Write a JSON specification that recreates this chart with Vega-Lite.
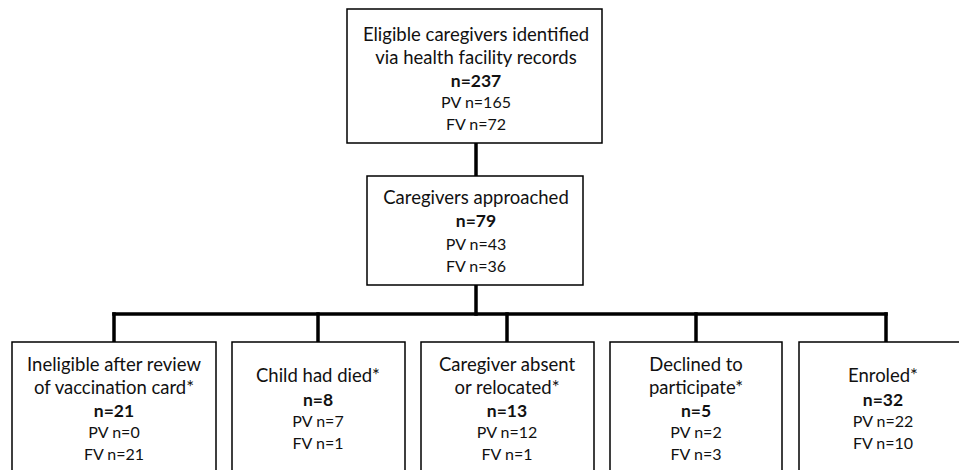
{
  "$schema": "https://vega.github.io/schema/vega-lite/v6.json",
  "width": 959,
  "height": 470,
  "autosize": "none",
  "padding": 0,
  "background": "white",
  "config": {"view": {"stroke": null}},
  "datasets": {
    "boxes": [
      {"box": "Eligible", "x1": 347, "x2": 602, "y1": 9, "y2": 143},
      {"box": "Approached", "x1": 367, "x2": 583, "y1": 176, "y2": 285},
      {"box": "Ineligible", "x1": 12, "x2": 216, "y1": 342, "y2": 480},
      {"box": "Died", "x1": 232, "x2": 405, "y1": 342, "y2": 480},
      {"box": "Absent", "x1": 421, "x2": 594, "y1": 342, "y2": 480},
      {"box": "Declined", "x1": 610, "x2": 782, "y1": 342, "y2": 480},
      {"box": "Enroled", "x1": 799, "x2": 968, "y1": 342, "y2": 480}
    ],
    "links": [
      {"x1": 476, "x2": 476, "y1": 143, "y2": 176},
      {"x1": 476, "x2": 476, "y1": 285, "y2": 314},
      {"x1": 114, "x2": 886, "y1": 314, "y2": 314},
      {"x1": 114, "x2": 114, "y1": 314, "y2": 342},
      {"x1": 318, "x2": 318, "y1": 314, "y2": 342},
      {"x1": 507, "x2": 507, "y1": 314, "y2": 342},
      {"x1": 696, "x2": 696, "y1": 314, "y2": 342},
      {"x1": 886, "x2": 886, "y1": 314, "y2": 342}
    ],
    "labels": [
      {"x": 476, "y": 35, "text": "Eligible caregivers identified", "kind": "title"},
      {"x": 476, "y": 58, "text": "via health facility records", "kind": "title"},
      {"x": 476, "y": 82, "text": "n=237", "kind": "n"},
      {"x": 476, "y": 103, "text": "PV n=165", "kind": "sub"},
      {"x": 476, "y": 125, "text": "FV n=72", "kind": "sub"},
      {"x": 476, "y": 198, "text": "Caregivers approached", "kind": "title"},
      {"x": 476, "y": 222, "text": "n=79", "kind": "n"},
      {"x": 476, "y": 245, "text": "PV n=43", "kind": "sub"},
      {"x": 476, "y": 267, "text": "FV n=36", "kind": "sub"},
      {"x": 114, "y": 365, "text": "Ineligible after review", "kind": "title"},
      {"x": 114, "y": 388, "text": "of vaccination card*", "kind": "title"},
      {"x": 114, "y": 412, "text": "n=21", "kind": "n"},
      {"x": 114, "y": 433, "text": "PV n=0", "kind": "sub"},
      {"x": 114, "y": 455, "text": "FV n=21", "kind": "sub"},
      {"x": 318, "y": 376, "text": "Child had died*", "kind": "title"},
      {"x": 318, "y": 401, "text": "n=8", "kind": "n"},
      {"x": 318, "y": 422, "text": "PV n=7", "kind": "sub"},
      {"x": 318, "y": 444, "text": "FV n=1", "kind": "sub"},
      {"x": 507, "y": 365, "text": "Caregiver absent", "kind": "title"},
      {"x": 507, "y": 388, "text": "or relocated*", "kind": "title"},
      {"x": 507, "y": 412, "text": "n=13", "kind": "n"},
      {"x": 507, "y": 433, "text": "PV n=12", "kind": "sub"},
      {"x": 507, "y": 455, "text": "FV n=1", "kind": "sub"},
      {"x": 696, "y": 365, "text": "Declined to", "kind": "title"},
      {"x": 696, "y": 388, "text": "participate*", "kind": "title"},
      {"x": 696, "y": 412, "text": "n=5", "kind": "n"},
      {"x": 696, "y": 433, "text": "PV n=2", "kind": "sub"},
      {"x": 696, "y": 455, "text": "FV n=3", "kind": "sub"},
      {"x": 883, "y": 376, "text": "Enroled*", "kind": "title"},
      {"x": 883, "y": 401, "text": "n=32", "kind": "n"},
      {"x": 883, "y": 422, "text": "PV n=22", "kind": "sub"},
      {"x": 883, "y": 444, "text": "FV n=10", "kind": "sub"}
    ]
  },
  "layer": [
    {
      "data": {"name": "links"},
      "mark": {"type": "rule", "stroke": "black", "strokeWidth": 3.5, "strokeCap": "square"},
      "encoding": {
        "x": {"field": "x1", "type": "quantitative", "scale": {"domain": [0, 959], "nice": false, "zero": false}, "axis": null},
        "x2": {"field": "x2"},
        "y": {"field": "y1", "type": "quantitative", "scale": {"domain": [0, 470], "nice": false, "zero": false, "reverse": true}, "axis": null},
        "y2": {"field": "y2"}
      }
    },
    {
      "data": {"name": "boxes"},
      "mark": {"type": "rect", "fill": "white", "stroke": "black", "strokeWidth": 1.5},
      "encoding": {
        "x": {"field": "x1", "type": "quantitative"},
        "x2": {"field": "x2"},
        "y": {"field": "y1", "type": "quantitative"},
        "y2": {"field": "y2"}
      }
    },
    {
      "data": {"name": "labels"},
      "transform": [{"filter": "datum.kind === 'title'"}],
      "mark": {"type": "text", "font": "Lato", "fontSize": 18.5, "color": "#111", "baseline": "middle", "align": "center"},
      "encoding": {
        "x": {"field": "x", "type": "quantitative"},
        "y": {"field": "y", "type": "quantitative"},
        "text": {"field": "text"}
      }
    },
    {
      "data": {"name": "labels"},
      "transform": [{"filter": "datum.kind === 'n'"}],
      "mark": {"type": "text", "font": "Lato", "fontSize": 17.5, "fontWeight": "bold", "color": "#111", "baseline": "middle", "align": "center"},
      "encoding": {
        "x": {"field": "x", "type": "quantitative"},
        "y": {"field": "y", "type": "quantitative"},
        "text": {"field": "text"}
      }
    },
    {
      "data": {"name": "labels"},
      "transform": [{"filter": "datum.kind === 'sub'"}],
      "mark": {"type": "text", "font": "Lato", "fontSize": 16, "color": "#111", "baseline": "middle", "align": "center"},
      "encoding": {
        "x": {"field": "x", "type": "quantitative"},
        "y": {"field": "y", "type": "quantitative"},
        "text": {"field": "text"}
      }
    }
  ]
}
